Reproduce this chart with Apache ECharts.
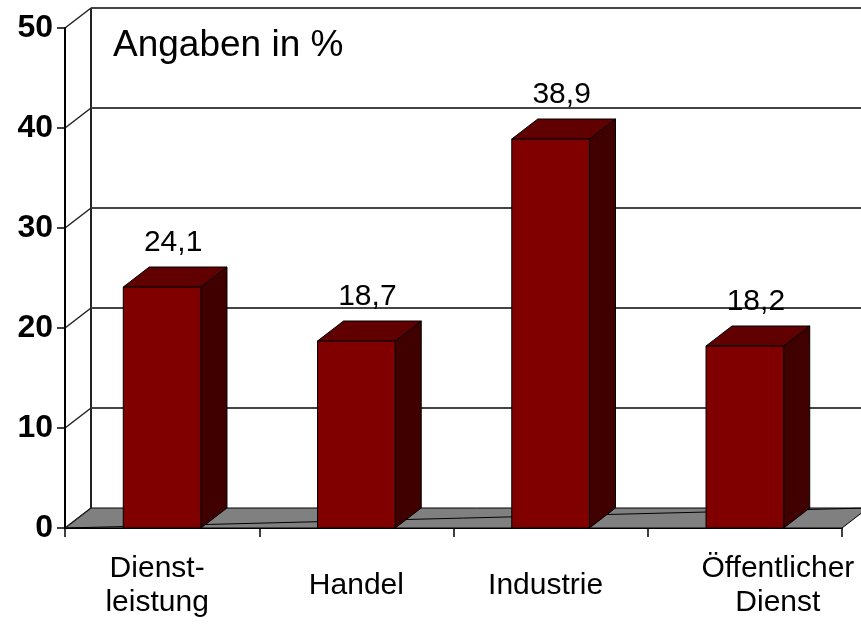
<!DOCTYPE html>
<html>
<head>
<meta charset="utf-8">
<script src="https://cdn.jsdelivr.net/npm/echarts@6/dist/echarts.min.js"></script>
<style>
  html, body { margin: 0; padding: 0; background: #fff; }
  #chart { width: 861px; height: 628px; }
</style>
</head>
<body>
<div id="chart"></div>
<script>
  var categories = ['Dienst-\nleistung', 'Handel', 'Industrie', 'Öffentlicher\nDienst'];
  var values = [24.1, 18.7, 38.9, 18.2];
  var valueLabels = ['24,1', '18,7', '38,9', '18,2'];
  var yTicks = [0, 10, 20, 30, 40, 50];

  var FONT = '"Liberation Sans", Arial, sans-serif';
  // depth offset of the pseudo 3D box
  var DX = 26, DY = -20;
  // small horizontal nudges of the category labels, as in the original
  var labelPads = [[0, 10, 0, 0], [0, 0, 0, 0], [0, 10, 0, 0], [0, 0, 0, 66]];

  var chart = echarts.init(document.getElementById('chart'));

  function renderWall(params, api) {
    var v = api.value(1);
    var cs = params.coordSys;
    var x0 = cs.x, x1 = cs.x + cs.width;
    var y = api.coord([0, v])[1];
    var children = [];
    if (v === 0) {
      children.push({
        type: 'polygon',
        shape: { points: [[x0, y], [x1, y], [x1 + DX, y + DY], [x0 + DX, y + DY]] },
        style: { fill: '#808080', stroke: '#000', lineWidth: 1 }
      });
      children.push({
        type: 'line',
        shape: { x1: x0, y1: y, x2: x1 + DX, y2: y + DY },
        style: { stroke: '#000', lineWidth: 1 }
      });
      var yTop = api.coord([0, yTicks[yTicks.length - 1]])[1];
      children.push({
        type: 'line',
        shape: { x1: x0 + DX, y1: y + DY, x2: x0 + DX, y2: yTop + DY },
        style: { stroke: '#222', lineWidth: 2 }
      });
    } else {
      children.push({
        type: 'line',
        shape: { x1: x0 + DX, y1: y + DY, x2: x1 + DX + 40, y2: y + DY },
        style: { stroke: '#444', lineWidth: 2 }
      });
    }
    children.push({
      type: 'line',
      shape: { x1: x0, y1: y, x2: x0 + DX, y2: y + DY },
      style: { stroke: '#222', lineWidth: 1.5 }
    });
    return { type: 'group', children: children };
  }

  function renderBar(params, api) {
    var i = api.value(0);
    var base = api.coord([i, 0]);
    var top = api.coord([i, api.value(1)]);
    var w = api.size([1, 0])[0] * 0.4;
    var l = base[0] - w / 2, r = base[0] + w / 2;
    var t = top[1], b = base[1];
    return {
      type: 'group',
      children: [
        {
          type: 'polygon',
          shape: { points: [[r, t], [r + DX, t + DY], [r + DX, b + DY], [r, b]] },
          style: { fill: '#400000', stroke: '#000', lineWidth: 1 }
        },
        {
          type: 'polygon',
          shape: { points: [[l, t], [r, t], [r + DX, t + DY], [l + DX, t + DY]] },
          style: { fill: '#600000', stroke: '#000', lineWidth: 1 }
        },
        {
          type: 'rect',
          shape: { x: l, y: t, width: w, height: b - t },
          style: { fill: '#800000', stroke: '#000', lineWidth: 1 }
        },
        {
          type: 'text',
          x: base[0] + 11,
          y: t + DY - 24,
          style: {
            text: valueLabels[params.dataIndex],
            font: '30px ' + FONT,
            fill: '#000',
            align: 'center',
            verticalAlign: 'middle'
          }
        }
      ]
    };
  }

  var option = {
    animation: false,
    title: {
      text: 'Angaben in %',
      left: 113,
      top: 27,
      padding: 0,
      textStyle: { fontFamily: FONT, fontSize: 37, fontWeight: 'normal', color: '#000' }
    },
    grid: { left: 65, right: 19, top: 28, bottom: 100, outerBoundsMode: 'none', containLabel: false },
    xAxis: {
      type: 'category',
      data: categories.map(function (c, i) {
        return {
          value: c,
          textStyle: { padding: labelPads[i], verticalAlign: 'middle', lineHeight: 34 }
        };
      }),
      axisLine: { lineStyle: { color: '#000', width: 1 } },
      axisTick: { show: true, length: 9, lineStyle: { color: '#000', width: 1.5 } },
      axisLabel: {
        fontFamily: FONT, fontSize: 30, color: '#000',
        lineHeight: 34, margin: 58, verticalAlign: 'middle', interval: 0
      },
      z: 1
    },
    yAxis: {
      type: 'value',
      min: 0,
      max: 50,
      interval: 10,
      axisLine: { show: true, lineStyle: { color: '#000', width: 2 } },
      axisTick: { show: true, length: 8, lineStyle: { color: '#000', width: 1.5 } },
      axisLabel: { fontFamily: FONT, fontSize: 32, fontWeight: 'bold', color: '#000', margin: 12 },
      splitLine: { show: false }
    },
    series: [
      {
        type: 'custom',
        renderItem: renderWall,
        data: yTicks.map(function (v) { return [0, v]; }),
        z: 0,
        silent: true
      },
      {
        type: 'custom',
        renderItem: renderBar,
        data: values.map(function (v, i) { return [i, v]; }),
        z: 2
      }
    ]
  };

  chart.setOption(option);
</script>
</body>
</html>
